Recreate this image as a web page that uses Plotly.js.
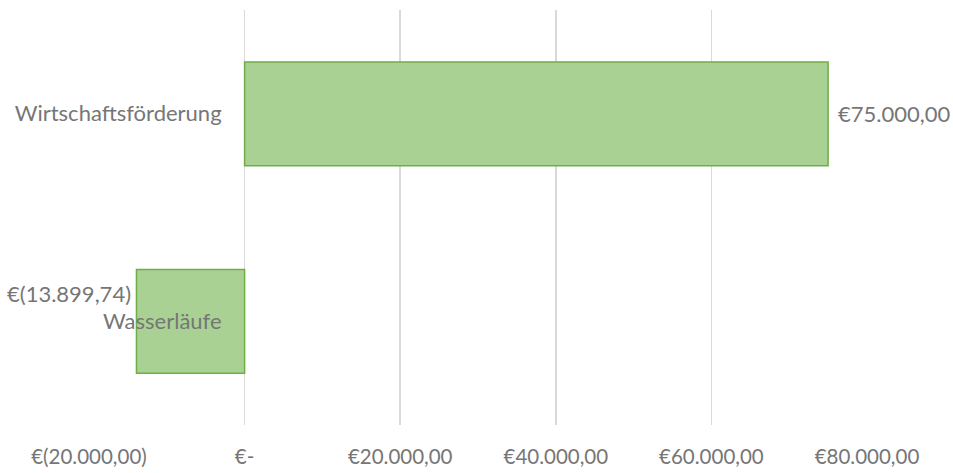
<!DOCTYPE html>
<html>
<head>
<meta charset="utf-8">
<script src="https://cdn.plot.ly/plotly-3.0.1.min.js"></script>
<style>html,body{margin:0;padding:0;background:#fff;}#chart{width:953px;height:473px;}</style>
</head>
<body>
<div id="chart"></div>
<script>
const categories = ["Wirtschaftsförderung", "Wasserläufe"];
const values = [75000, -13899.74];
const tickValues = [-20000, 0, 20000, 40000, 60000, 80000];
const tickLabels = ["€(20.000,00)", "€-", "€20.000,00", "€40.000,00", "€60.000,00", "€80.000,00"];

function fmtEuro(v) {
  const a = Math.abs(v);
  const parts = a.toFixed(2).split(".");
  const intPart = parts[0].replace(/\B(?=(\d{3})+(?!\d))/g, ".");
  const s = intPart + "," + parts[1];
  return v < 0 ? "€(" + s + ")" : "€" + s;
}

const FONT = "Lato, Open Sans, sans-serif";
const GREY = "#767676";

const trace = {
  type: "bar",
  orientation: "h",
  y: categories,
  x: values,
  width: 0.5,
  marker: { color: "#a9d193", line: { color: "#70ad47", width: 1.5 } },
  hoverinfo: "skip"
};

const annotations = values.map((v, i) => ({
  x: v, y: categories[i], xref: "x", yref: "y",
  text: fmtEuro(v), showarrow: false,
  xanchor: v >= 0 ? "left" : "right",
  xshift: v >= 0 ? 8 : -3,
  yshift: v >= 0 ? 0 : 28,
  font: { family: FONT, size: 22, color: GREY }
}));

const layout = {
  width: 953, height: 473,
  margin: { l: 89, r: 86, t: 10, b: 48 },
  paper_bgcolor: "#fff", plot_bgcolor: "#fff",
  showlegend: false,
  font: { family: FONT, size: 21, color: GREY },
  xaxis: {
    range: [-20000, 80000],
    tickvals: tickValues, ticktext: tickLabels,
    showgrid: true, gridcolor: "#d9d9d9", gridwidth: 1.5,
    zeroline: false, showline: false, ticks: "",
    ticklabelstandoff: 17,
    tickfont: { family: FONT, size: 20.5, color: GREY }
  },
  yaxis: {
    autorange: "reversed",
    anchor: "free", position: 0.2,
    showgrid: false, zeroline: false, showline: false, ticks: "",
    ticklabelstandoff: 23,
    tickfont: { family: FONT, size: 22, color: GREY }
  },
  annotations: annotations
};

Plotly.newPlot("chart", [trace], layout, { displayModeBar: false, staticPlot: true });
</script>
</body>
</html>
